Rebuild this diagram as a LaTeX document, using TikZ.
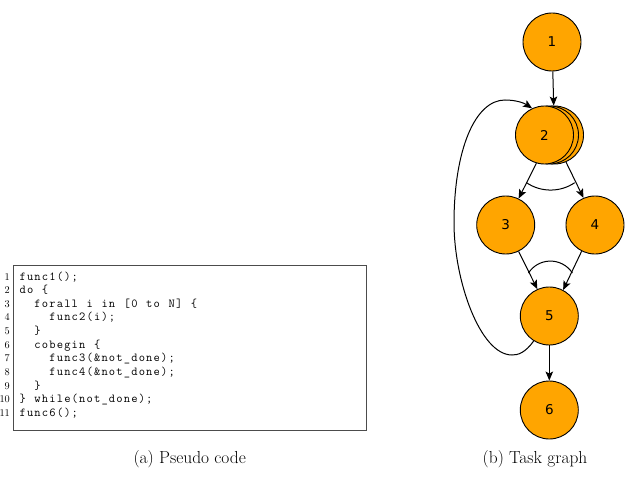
\documentclass[tikz,border=0pt]{standalone}
\usepackage{fontspec}
\newfontfamily\labfont{DejaVu Sans}
\usetikzlibrary{arrows.meta}
\definecolor{taskorange}{RGB}{255,165,0}
\newlength\codecw
\setlength\codecw{7.45pt}
\def\codeln#1{\codelnloop#1\relax}
\def\codelnloop#1{\ifx\relax#1\else\makebox[\codecw][c]{#1}\expandafter\codelnloop\fi}
\tikzset{
  task/.style={circle, draw=black, line width=0.9pt, fill=taskorange, minimum size=58pt, inner sep=0pt, font=\labfont\fontsize{13.5}{15}\selectfont},
  edge/.style={line width=1pt, -{Stealth[length=9pt,width=7.5pt,inset=2pt]}},
  plain/.style={line width=1pt},
  codetext/.style={anchor=base west, inner sep=0pt, font=\ttfamily\fontsize{12.2}{13}\selectfont},
  numtext/.style={anchor=base east, inner sep=0pt, font=\rmfamily\fontsize{10.3}{11}\selectfont},
  captext/.style={inner sep=0pt, font=\rmfamily\fontsize{17.4}{20}\selectfont}
}
\begin{document}
\begin{tikzpicture}[x=1pt,y=1pt]
\useasboundingbox[fill=white] (0,0) rectangle (628,480);
% ---------- code panel ----------
\draw[black!70, line width=0.8pt] (13.3,49.5) rectangle (366.7,215);
\node[numtext] (l1) at (10,200) {1};
\node[numtext] (l2) at (10,186.35) {2};
\node[numtext] (l3) at (10,172.7) {3};
\node[numtext] (l4) at (10,159.05) {4};
\node[numtext] (l5) at (10,145.4) {5};
\node[numtext] (l6) at (10,131.75) {6};
\node[numtext] (l7) at (10,118.1) {7};
\node[numtext] (l8) at (10,104.45) {8};
\node[numtext] (l9) at (10,90.8) {9};
\node[numtext] (l10) at (10,77.15) {10};
\node[numtext] (l11) at (10,63.5) {11};
\node[codetext] (c1) at (18.8,200) {\codeln{func1();}};
\node[codetext] (c2) at (18.8,186.35) {\codeln{do~\{}};
\node[codetext] (c3) at (18.8,172.7) {\codeln{~~forall~i~in~[0~to~N]~\{}};
\node[codetext] (c4) at (18.8,159.05) {\codeln{~~~~func2(i);}};
\node[codetext] (c5) at (18.8,145.4) {\codeln{~~\}}};
\node[codetext] (c6) at (18.8,131.75) {\codeln{~~cobegin~\{}};
\node[codetext] (c7) at (18.8,118.1) {\codeln{~~~~func3(\&not\_done);}};
\node[codetext] (c8) at (18.8,104.45) {\codeln{~~~~func4(\&not\_done);}};
\node[codetext] (c9) at (18.8,90.8) {\codeln{~~\}}};
\node[codetext] (c10) at (18.8,77.15) {\codeln{\}~while(not\_done);}};
\node[codetext] (c11) at (18.8,63.5) {\codeln{func6();}};
\node[captext] (capa) at (189.7,21) {(a) Pseudo code};
% ---------- task graph ----------
\node[task] (n2c) at (554.5,345) {};
\node[task] (n2b) at (549.5,345) {};
\node[task] (n2) at (544.5,345) {2};
\node[task] (n1) at (552,438) {1};
\node[task] (n3) at (505.7,255) {3};
\node[task] (n4) at (595,255) {4};
\node[task] (n5) at (549.3,164) {5};
\node[task] (n6) at (549.3,70) {6};
\draw[edge] (n1) -- (n2c);
\draw[edge] (n2.254) -- (n3.64);
\draw[edge] (n2c.293) -- (n4.113);
\draw[plain] (526.5,297.3) arc[start angle=236, end angle=304, radius=43.1];
\draw[edge] (n3.296) -- (n5.114);
\draw[edge] (n4.243) -- (n5.62);
\draw[plain] (572.4,207) arc[start angle=33, end angle=147, radius=26.2];
\draw[edge] (n5) -- (n6);
\coordinate (lpb) at (512,125);
\coordinate (lpl) at (454,257);
\coordinate (lpt) at (505,380);
\draw[edge] (n5.238) .. controls (525,127) and (518,125) .. (lpb)
  .. controls (480,125) and (454,200) .. (lpl)
  .. controls (454,330) and (475,380) .. (lpt)
  .. controls (516,380) and (524,377) .. (n2.115);
\node[captext] (capb) at (535,21) {(b) Task graph};
\end{tikzpicture}
\end{document}
